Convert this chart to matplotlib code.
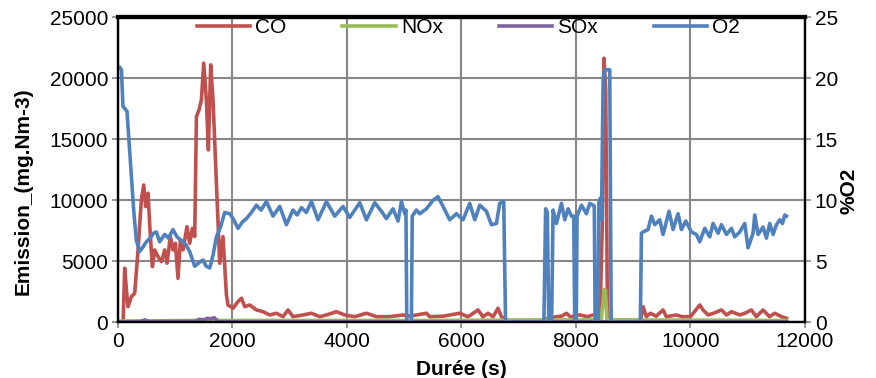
import matplotlib
matplotlib.use("Agg")
import matplotlib.pyplot as plt

plt.rcParams['font.family'] = ['Liberation Sans', 'DejaVu Sans']

# CO emission (mg.Nm-3) vs time (s)
co_t = [40, 90, 117, 150, 175, 234, 292, 350, 408, 449, 484, 524, 566, 601, 641, 699,
        758, 816, 856, 915, 961, 1003, 1048, 1090, 1136, 1205, 1252, 1300, 1340, 1370,
        1415, 1457, 1497, 1544, 1579, 1619, 1660, 1719, 1777, 1834, 1894, 1922, 2010,
        2097, 2156, 2214, 2301, 2418, 2533, 2650, 2767, 2883, 2970, 3057, 3232, 3379,
        3524, 3641, 3815, 3960, 4135, 4340, 4514, 4747, 4979, 5100, 5213, 5387, 5445,
        5678, 5969, 6114, 6289, 6376, 6464, 6551, 6638, 6698, 6760, 6800, 7440, 7500,
        7659, 7750, 7833, 7900, 8066, 8200, 8300, 8420, 8460, 8490, 8520, 8550, 8600,
        9130, 9172, 9230, 9300, 9400, 9521, 9580, 9755, 9850, 10000, 10162, 10220,
        10307, 10400, 10541, 10630, 10716, 10860, 10950, 11064, 11150, 11268, 11380,
        11472, 11589, 11676]
co_v = [0, 0, 4430, 2500, 1280, 2100, 2370, 5930, 10030, 11260, 9480, 10580, 7020, 4560,
        5930, 5380, 4970, 5930, 4840, 7020, 5930, 6470, 3600, 6740, 5930, 7840, 6470,
        7700, 7020, 16860, 17410, 18230, 21240, 18230, 14130, 21100, 18230, 11400, 4840,
        7020, 2240, 1420, 1150, 1700, 1970, 1280, 1420, 1010, 870, 600, 740, 460, 1010,
        460, 600, 740, 460, 600, 870, 600, 460, 740, 460, 460, 600, 500, 600, 740, 460,
        500, 740, 450, 1010, 450, 740, 450, 1150, 450, 300, 150, 150, 300, 460, 500, 740,
        450, 600, 460, 600, 500, 8000, 21650, 19000, 500, 150, 150, 1280, 460, 740, 500,
        1010, 460, 600, 460, 460, 1420, 1010, 600, 740, 1010, 600, 870, 600, 740, 1010,
        460, 1010, 460, 740, 460, 330]

# NOx emission
nox_t = [40, 600, 1400, 1650, 1800, 5000, 8440, 8470, 8490, 8515, 8540, 11680]
nox_v = [100, 120, 150, 200, 150, 150, 200, 1500, 2700, 2600, 200, 150]

# SOx emission
sox_t = [40, 400, 470, 540, 1350, 1420, 1500, 1560, 1620, 1680, 1750, 11680]
sox_v = [30, 60, 200, 60, 80, 250, 200, 330, 280, 380, 50, 30]

# O2 (%)
o2_t = [30, 60, 87, 157, 274, 321, 379, 440, 496, 560, 620, 670, 728, 816, 880, 961,
        1030, 1107, 1180, 1252, 1340, 1420, 1485, 1540, 1602, 1660, 1719, 1790, 1864,
        1951, 2010, 2097, 2170, 2243, 2330, 2418, 2500, 2593, 2708, 2825, 2942, 3057,
        3130, 3204, 3290, 3379, 3494, 3641, 3786, 3931, 4048, 4135, 4223, 4340, 4485,
        4602, 4689, 4804, 4892, 4951, 5009, 5030, 5045, 5125, 5140, 5213, 5271, 5387,
        5503, 5590, 5678, 5795, 5912, 6027, 6144, 6232, 6319, 6436, 6523, 6611, 6668,
        6738, 6770, 7440, 7470, 7500, 7525, 7575, 7600, 7659, 7746, 7804, 7862, 7921,
        7960, 7979, 8005, 8019, 8096, 8183, 8241, 8299, 8320, 8335, 8385, 8400, 8430,
        8445, 8475, 8503, 8590, 8615, 9125, 9143, 9172, 9259, 9318, 9376, 9463, 9521,
        9626, 9696, 9783, 9843, 9918, 10017, 10104, 10162, 10250, 10337, 10395, 10482,
        10541, 10629, 10716, 10773, 10861, 10948, 11006, 11093, 11123, 11181, 11268,
        11327, 11385, 11443, 11502, 11560, 11607, 11647, 11676]
o2_v = [20.9, 20.7, 17.7, 17.3, 9.2, 6.7, 5.8, 6.2, 6.6, 6.9, 7.3, 7.4, 6.6, 7.2, 6.9,
        7.6, 7.0, 6.7, 6.4, 5.8, 4.6, 4.9, 5.1, 4.6, 4.45, 5.5, 7.0, 7.8, 9.0, 8.9, 8.5,
        7.7, 8.2, 8.5, 9.0, 9.6, 9.2, 9.9, 8.7, 9.5, 8.0, 9.2, 8.8, 9.4, 9.0, 9.9, 8.4,
        9.9, 8.7, 9.5, 8.6, 9.2, 9.8, 8.4, 9.8, 9.1, 8.5, 9.3, 8.3, 9.9, 8.9, 9.2, 0, 0,
        8.7, 9.2, 8.9, 9.3, 10.0, 10.3, 9.5, 8.4, 8.9, 8.4, 9.75, 8.4, 9.6, 9.1, 8.0, 8.1,
        9.75, 9.9, 0, 0, 9.3, 9.0, 0, 0, 9.2, 8.1, 9.75, 8.4, 9.3, 8.7, 8.7, 0, 0, 8.7,
        9.6, 8.9, 9.75, 9.6, 9.5, 0, 0, 9.8, 10.2, 8.4, 20.0, 20.7, 20.7, 0, 0, 7.3, 7.4,
        7.6, 8.7, 8.0, 8.4, 7.2, 9.1, 7.6, 8.9, 7.6, 8.3, 7.4, 7.2, 6.6, 7.7, 7.0, 8.1,
        7.3, 8.0, 7.2, 7.7, 7.0, 7.4, 8.1, 6.1, 7.3, 8.8, 7.2, 7.8, 6.9, 8.1, 7.2, 8.0,
        8.4, 8.1, 8.8, 8.7]

fig = plt.figure(figsize=(8.76, 3.78), dpi=100)
ax = fig.add_axes([0.1347, 0.1474, 0.7842, 0.8068])
ax2 = ax.twinx()

grid_c = '#878787'
lw = 2.6
fs = 15
l_co, = ax.plot(co_t, co_v, color='#C0504D', lw=lw, label='CO')
l_nox, = ax.plot(nox_t, nox_v, color='#9BBB59', lw=lw, label='NOx')
l_sox, = ax.plot(sox_t, sox_v, color='#8064A2', lw=lw, label='SOx')
l_o2, = ax2.plot(o2_t, o2_v, color='#4F81BD', lw=lw, label='O2')

ax.set_xlim(0, 12000)
ax.set_ylim(0, 25000)
ax2.set_ylim(0, 25)
ax.set_xticks(range(0, 12001, 2000))
ax.set_yticks(range(0, 25001, 5000))
ax2.set_yticks(range(0, 26, 5))

ax.set_axisbelow(True)
ax.grid(True, color=grid_c, lw=1.5)
for a in (ax, ax2):
    a.tick_params(labelsize=fs, color=grid_c, length=4, width=1.2, pad=3)
    for s in a.spines.values():
        s.set_color('black')
        s.set_linewidth(1.6)
ax.spines['top'].set_linewidth(3)
ax2.spines['top'].set_linewidth(3)

ax.set_xlabel('Durée (s)', fontsize=fs, fontweight='bold')
ax.xaxis.set_label_coords(0.5, -0.125)
ax.set_ylabel('Emission_(mg.Nm-3)', fontsize=fs, fontweight='bold')
ax.yaxis.set_label_coords(-0.125, 0.43)
ax2.set_ylabel('%O2', fontsize=fs, fontweight='bold', rotation=90)
ax2.yaxis.set_label_coords(1.051, 0.43)

ax2.legend([l_co, l_nox, l_sox, l_o2], ['CO', 'NOx', 'SOx', 'O2'],
           loc='center', bbox_to_anchor=(0.51, 0.965), ncol=4, frameon=False,
           fontsize=fs, handlelength=2.55, handletextpad=0.25, columnspacing=2.68,
           borderaxespad=0, borderpad=0)

fig.savefig('out.png', dpi=100)
